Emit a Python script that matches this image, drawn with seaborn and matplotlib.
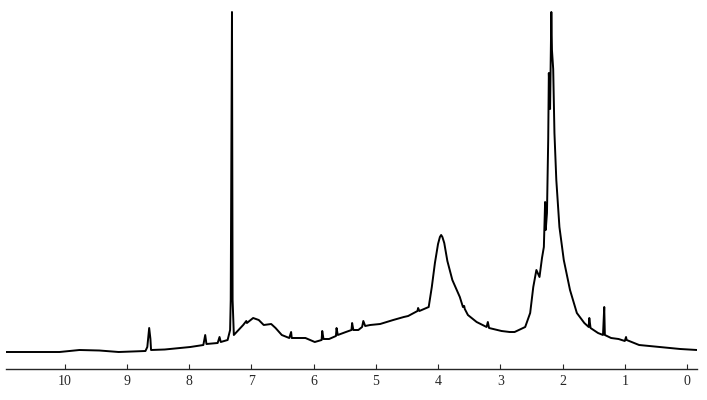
import matplotlib
matplotlib.use("Agg")
import matplotlib.pyplot as plt
import seaborn as sns
import pandas as pd

# traced 1H NMR spectrum (chemical shift in ppm, intensity arbitrary units)
ppm = [10.94, 10.08, 9.76, 9.44, 9.13, 8.70, 8.67, 8.64, 8.62, 8.61, 8.39,
       7.98, 7.77, 7.74, 7.72, 7.54, 7.51, 7.49, 7.38, 7.34, 7.33, 7.31,
       7.30, 7.28, 7.25, 7.13, 7.08, 7.07, 6.97, 6.88, 6.80, 6.68, 6.61,
       6.51, 6.39, 6.36, 6.35, 6.13, 5.98, 5.87, 5.86, 5.84, 5.75, 5.64,
       5.63, 5.61, 5.48, 5.39, 5.38, 5.36, 5.28, 5.22, 5.20, 5.17, 5.09,
       4.93, 4.72, 4.55, 4.48, 4.33, 4.32, 4.30, 4.15, 4.10, 4.05, 4.00,
       3.97, 3.95, 3.93, 3.90, 3.85, 3.77, 3.65, 3.60, 3.58, 3.57, 3.52,
       3.38, 3.22, 3.20, 3.18, 2.98, 2.85, 2.77, 2.60, 2.52, 2.47, 2.42,
       2.37, 2.33, 2.30, 2.28, 2.27, 2.25, 2.23, 2.22, 2.20, 2.18, 2.17,
       2.15, 2.13, 2.10, 2.05, 1.98, 1.88, 1.77, 1.65, 1.58, 1.57, 1.55,
       1.43, 1.35, 1.33, 1.32, 1.22, 1.10, 1.00, 0.98, 0.97, 0.77, 0.44,
       0.11, -0.16]
intensity = [17, 17, 19, 18.5, 17, 18, 22, 41, 30, 19, 19.5,
             22, 24, 34, 25, 26, 32, 27, 29, 39, 69, 357,
             69, 34, 36, 44, 48, 46, 51, 49, 44, 45, 41,
             34, 31, 37, 31, 31, 27, 29, 38, 30, 30, 33,
             41, 34, 37, 39, 46, 39, 39, 42, 48, 43, 44,
             45, 49, 52, 53, 58, 61, 58, 62, 82, 106, 125,
             132, 134, 132, 126, 108, 89, 72, 62, 63, 60, 54,
             47, 42, 47, 41, 38, 37, 37, 42, 56, 82, 99,
             92, 111, 122, 167, 139, 156, 230, 296, 260, 357, 319,
             300, 236, 189, 142, 109, 79, 56, 46, 42, 51, 41,
             36, 34, 62, 34, 31, 30, 28, 32, 29, 24, 22,
             20, 19]
tick_values = [10, 9, 8, 7, 6, 5, 4, 3, 2, 1, 0]

df = pd.DataFrame({"ppm": ppm, "intensity": intensity})

sns.set_style("white")
plt.rcParams['font.family'] = ['Liberation Serif', 'DejaVu Serif']

fig = plt.figure(figsize=(7.07, 4.0), dpi=100)
ax = fig.add_axes([6 / 707, 31 / 400, 691 / 707, 369 / 400])
sns.lineplot(data=df, x="ppm", y="intensity", sort=False, color="black",
             linewidth=1.4, ax=ax)

ax.set_xlim(10.94, -0.16)
ax.set_ylim(0, 369)
ax.set_xticks(tick_values)
ax.set_xticklabels([str(t) for t in tick_values])
ax.set_yticks([])
ax.set_xlabel("")
ax.set_ylabel("")
for side in ["top", "left", "right"]:
    ax.spines[side].set_visible(False)
ax.spines["bottom"].set_linewidth(1.0)
ax.tick_params(axis="x", direction="in", length=3.5, width=0.8,
               labelsize=10, pad=4, bottom=True)

fig.savefig("out.png", dpi=100)
